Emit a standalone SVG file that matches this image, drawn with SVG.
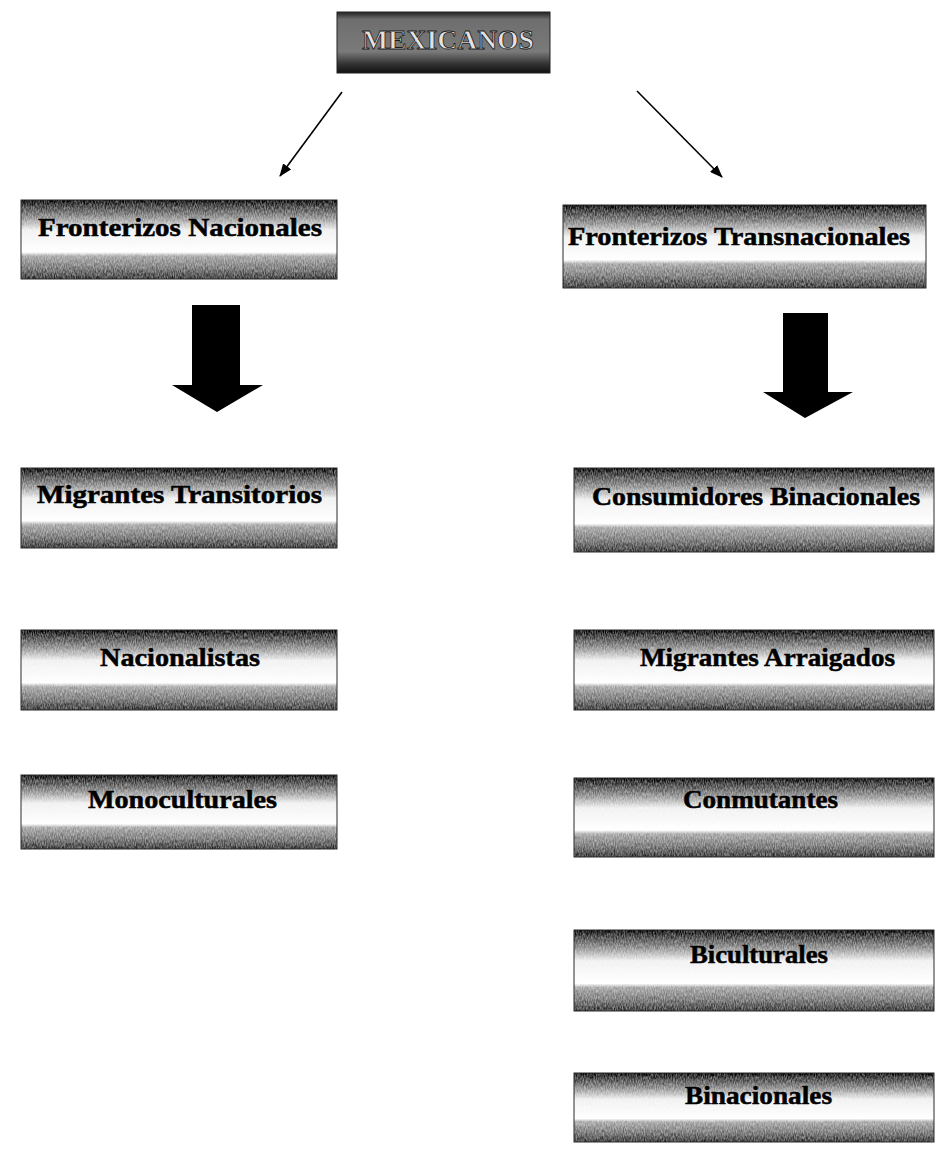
<svg xmlns="http://www.w3.org/2000/svg" width="936" height="1152" viewBox="0 0 936 1152">
  <style>
    .lbl { font-family: "Liberation Serif", "Times New Roman", serif; font-weight: bold; font-size: 25px; fill: #000; stroke: #000; stroke-width: 0.5; }
    .band { fill: url(#bandFill); filter: url(#grain); }
    .edge { fill: none; stroke: #2a2a2a; stroke-width: 1; }
    .title { font-family: "Liberation Serif", "Times New Roman", serif; font-weight: bold; font-size: 27px; fill: #e2e2e2; stroke: #1a1a1a; stroke-width: 0.8; }
    .thin { stroke: #000; stroke-width: 1.6; fill: none; marker-end: url(#head); }
    .fat { fill: #000; }
  </style>
  <defs>
    <!-- textured label band: dark top fading to white, then a grey lower strip -->
    <linearGradient id="bandFill" x1="0" y1="0" x2="0" y2="1">
      <stop offset="0" stop-color="#1a1a1a"/>
      <stop offset="0.06" stop-color="#4a4a4a"/>
      <stop offset="0.2" stop-color="#909090"/>
      <stop offset="0.38" stop-color="#f2f2f2"/>
      <stop offset="0.66" stop-color="#ffffff"/>
      <stop offset="0.71" stop-color="#b0b0b0"/>
      <stop offset="0.86" stop-color="#858585"/>
      <stop offset="1" stop-color="#484848"/>
    </linearGradient>
    <linearGradient id="titleFill" x1="0" y1="0" x2="0" y2="1">
      <stop offset="0" stop-color="#222"/>
      <stop offset="0.12" stop-color="#6e6e6e"/>
      <stop offset="0.65" stop-color="#7a7a7a"/>
      <stop offset="0.85" stop-color="#333"/>
      <stop offset="1" stop-color="#111"/>
    </linearGradient>
    <!-- fine grass-like grain, stronger where the fill is darker -->
    <filter id="grain" x="0" y="0" width="1" height="1" color-interpolation-filters="sRGB">
      <feTurbulence type="fractalNoise" baseFrequency="0.9 0.3" numOctaves="2" seed="7" result="n0"/>
      <feColorMatrix in="n0" type="matrix" values="1 0 0 0 0  1 0 0 0 0  1 0 0 0 0  0 0 0 0 1" result="n1"/>
      <feComponentTransfer in="n1" result="n2">
        <feFuncR type="linear" slope="1.8" intercept="-0.4"/>
        <feFuncG type="linear" slope="1.8" intercept="-0.4"/>
        <feFuncB type="linear" slope="1.8" intercept="-0.4"/>
      </feComponentTransfer>
      <feComposite in="SourceGraphic" in2="n2" operator="arithmetic" k1="0.6" k2="0.7" k3="-0.6" k4="0.3"/>
    </filter>
    <marker id="head" markerWidth="13" markerHeight="10" refX="12" refY="5" orient="auto" markerUnits="userSpaceOnUse">
      <path d="M0,0 L13,5 L0,10 Z" fill="#000"/>
    </marker>
  </defs>

  <!-- root -->
  <g id="mexicanos">
    <rect x="337" y="12" width="213" height="61" fill="url(#titleFill)" stroke="#222" stroke-width="1"/>
    <text class="title" x="362" y="49" textLength="172" lengthAdjust="spacingAndGlyphs">MEXICANOS</text>
  </g>

  <!-- connectors -->
  <g id="connectors">
    <line class="thin" x1="342" y1="92" x2="280" y2="176"/>
    <line class="thin" x1="637" y1="91" x2="722" y2="177"/>
    <polygon class="fat" points="192,305 240,305 240,385 263,385 217,412 172,385 192,385"/>
    <polygon class="fat" points="783,313 828,313 828,392 853,392 805,418 763,392 783,392"/>
  </g>

  <!-- left column -->
  <g id="fronterizos-nacionales">
    <rect class="band" x="21" y="200" width="316" height="79"/>
    <rect class="edge" x="21" y="200" width="316" height="79"/>
    <text class="lbl" x="38" y="236" textLength="284" lengthAdjust="spacingAndGlyphs">Fronterizos Nacionales</text>
  </g>
  <g id="migrantes-transitorios">
    <rect class="band" x="21" y="468" width="316" height="80"/>
    <rect class="edge" x="21" y="468" width="316" height="80"/>
    <text class="lbl" x="37" y="503" textLength="285" lengthAdjust="spacingAndGlyphs">Migrantes Transitorios</text>
  </g>
  <g id="nacionalistas">
    <rect class="band" x="21" y="630" width="316" height="80"/>
    <rect class="edge" x="21" y="630" width="316" height="80"/>
    <text class="lbl" x="100" y="666" textLength="160" lengthAdjust="spacingAndGlyphs">Nacionalistas</text>
  </g>
  <g id="monoculturales">
    <rect class="band" x="21" y="775" width="316" height="74"/>
    <rect class="edge" x="21" y="775" width="316" height="74"/>
    <text class="lbl" x="88" y="808" textLength="189" lengthAdjust="spacingAndGlyphs">Monoculturales</text>
  </g>

  <!-- right column -->
  <g id="fronterizos-transnacionales">
    <rect class="band" x="563" y="205" width="363" height="83"/>
    <rect class="edge" x="563" y="205" width="363" height="83"/>
    <text class="lbl" x="568" y="245" textLength="342" lengthAdjust="spacingAndGlyphs">Fronterizos Transnacionales</text>
  </g>
  <g id="consumidores-binacionales">
    <rect class="band" x="574" y="468" width="360" height="84"/>
    <rect class="edge" x="574" y="468" width="360" height="84"/>
    <text class="lbl" x="592" y="505" textLength="328" lengthAdjust="spacingAndGlyphs">Consumidores Binacionales</text>
  </g>
  <g id="migrantes-arraigados">
    <rect class="band" x="574" y="630" width="360" height="80"/>
    <rect class="edge" x="574" y="630" width="360" height="80"/>
    <text class="lbl" x="640" y="666" textLength="255" lengthAdjust="spacingAndGlyphs">Migrantes Arraigados</text>
  </g>
  <g id="conmutantes">
    <rect class="band" x="574" y="778" width="360" height="79"/>
    <rect class="edge" x="574" y="778" width="360" height="79"/>
    <text class="lbl" x="683" y="808" textLength="155" lengthAdjust="spacingAndGlyphs">Conmutantes</text>
  </g>
  <g id="biculturales">
    <rect class="band" x="574" y="930" width="360" height="81"/>
    <rect class="edge" x="574" y="930" width="360" height="81"/>
    <text class="lbl" x="690" y="963" textLength="138" lengthAdjust="spacingAndGlyphs">Biculturales</text>
  </g>
  <g id="binacionales">
    <rect class="band" x="574" y="1073" width="360" height="69"/>
    <rect class="edge" x="574" y="1073" width="360" height="69"/>
    <text class="lbl" x="685" y="1104" textLength="147" lengthAdjust="spacingAndGlyphs">Binacionales</text>
  </g>
</svg>
